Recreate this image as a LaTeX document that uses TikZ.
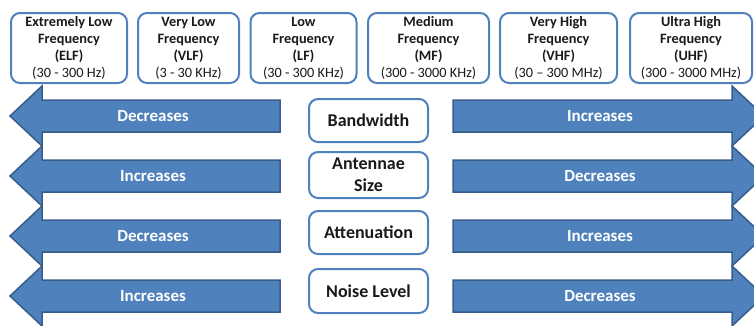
\documentclass[tikz,border=0pt]{standalone}
\usepackage{fontspec}
\setmainfont{Carlito}
\definecolor{boxblue}{HTML}{4F81BD}
\definecolor{arrowfill}{HTML}{4F81BD}
\definecolor{arrowdraw}{HTML}{385D8A}
\definecolor{txt}{HTML}{1A1A1A}
\begin{document}
\begin{tikzpicture}[x=1pt,y=-1pt,
  topbox/.style={draw=boxblue, line width=2pt, rounded corners=9pt, fill=white,
    minimum height=70pt, inner sep=0pt, align=center, text=txt,
    font=\bfseries\fontsize{14.3}{17}\selectfont},
  midbox/.style={draw=boxblue, line width=2pt, rounded corners=9pt, fill=white,
    minimum width=119pt, inner sep=0pt, align=center, text=txt,
    font=\bfseries\fontsize{18}{22}\selectfont},
  arrowshape/.style={fill=arrowfill, draw=arrowdraw, line width=1.5pt, line join=miter},
  arrowlabel/.style={text=white, font=\bfseries\fontsize{17}{20}\selectfont, inner sep=0pt}
]
\useasboundingbox (0,0) rectangle (754,325);
\clip (0,0) rectangle (754,325);

% left arrows
\foreach \c/\t/\n in {116/Decreases/la1, 176/Increases/la2, 236/Decreases/la3, 296/Increases/la4}{
  \path[arrowshape] (10,\c) -- (42,\c-30) -- (42,\c-16) -- (280,\c-16) -- (280,\c+16)
    -- (42,\c+16) -- (42,\c+30) -- cycle;
  \node[arrowlabel] (\n) at (153,\c) {\t};
}
% right arrows
\foreach \c/\t/\n in {116/Increases/ra1, 176/Decreases/ra2, 236/Increases/ra3, 296/Decreases/ra4}{
  \path[arrowshape] (453,\c-16) -- (732,\c-16) -- (732,\c-30) -- (764,\c) -- (732,\c+30)
    -- (732,\c+16) -- (453,\c+16) -- cycle;
  \node[arrowlabel] (\n) at (600,\c) {\t};
}

% top boxes
\node[topbox, minimum width=116pt] (elf) at (69,48)
  {Extremely Low\\Frequency\\(ELF)\\{\mdseries (30 - 300 Hz)}};
\node[topbox, minimum width=101pt] (vlf) at (188.5,48)
  {Very Low\\Frequency\\(VLF)\\{\mdseries (3 - 30 KHz)}};
\node[topbox, minimum width=106pt] (lf) at (303.5,48)
  {Low\\Frequency\\(LF)\\{\mdseries (30 - 300 KHz)}};
\node[topbox, minimum width=121pt] (mf) at (428.5,48)
  {Medium\\Frequency\\(MF)\\{\mdseries (300 - 3000 KHz)}};
\node[topbox, minimum width=117pt] (vhf) at (558.5,48)
  {Very High\\Frequency\\(VHF)\\{\mdseries (30 – 300 MHz)}};
\node[topbox, minimum width=122pt] (uhf) at (691,48)
  {Ultra High\\Frequency\\(UHF)\\{\mdseries (300 - 3000 MHz)}};

% middle boxes
\node[midbox, minimum height=43pt] (bw) at (368.5,120.5) {Bandwidth};
\node[midbox, minimum height=46pt] (ant) at (368.5,175) {Antennae\\Size};
\node[midbox, minimum height=43pt] (att) at (368.5,232.5) {Attenuation};
\node[midbox, minimum height=44pt] (noise) at (368.5,291) {Noise Level};
\end{tikzpicture}
\end{document}
